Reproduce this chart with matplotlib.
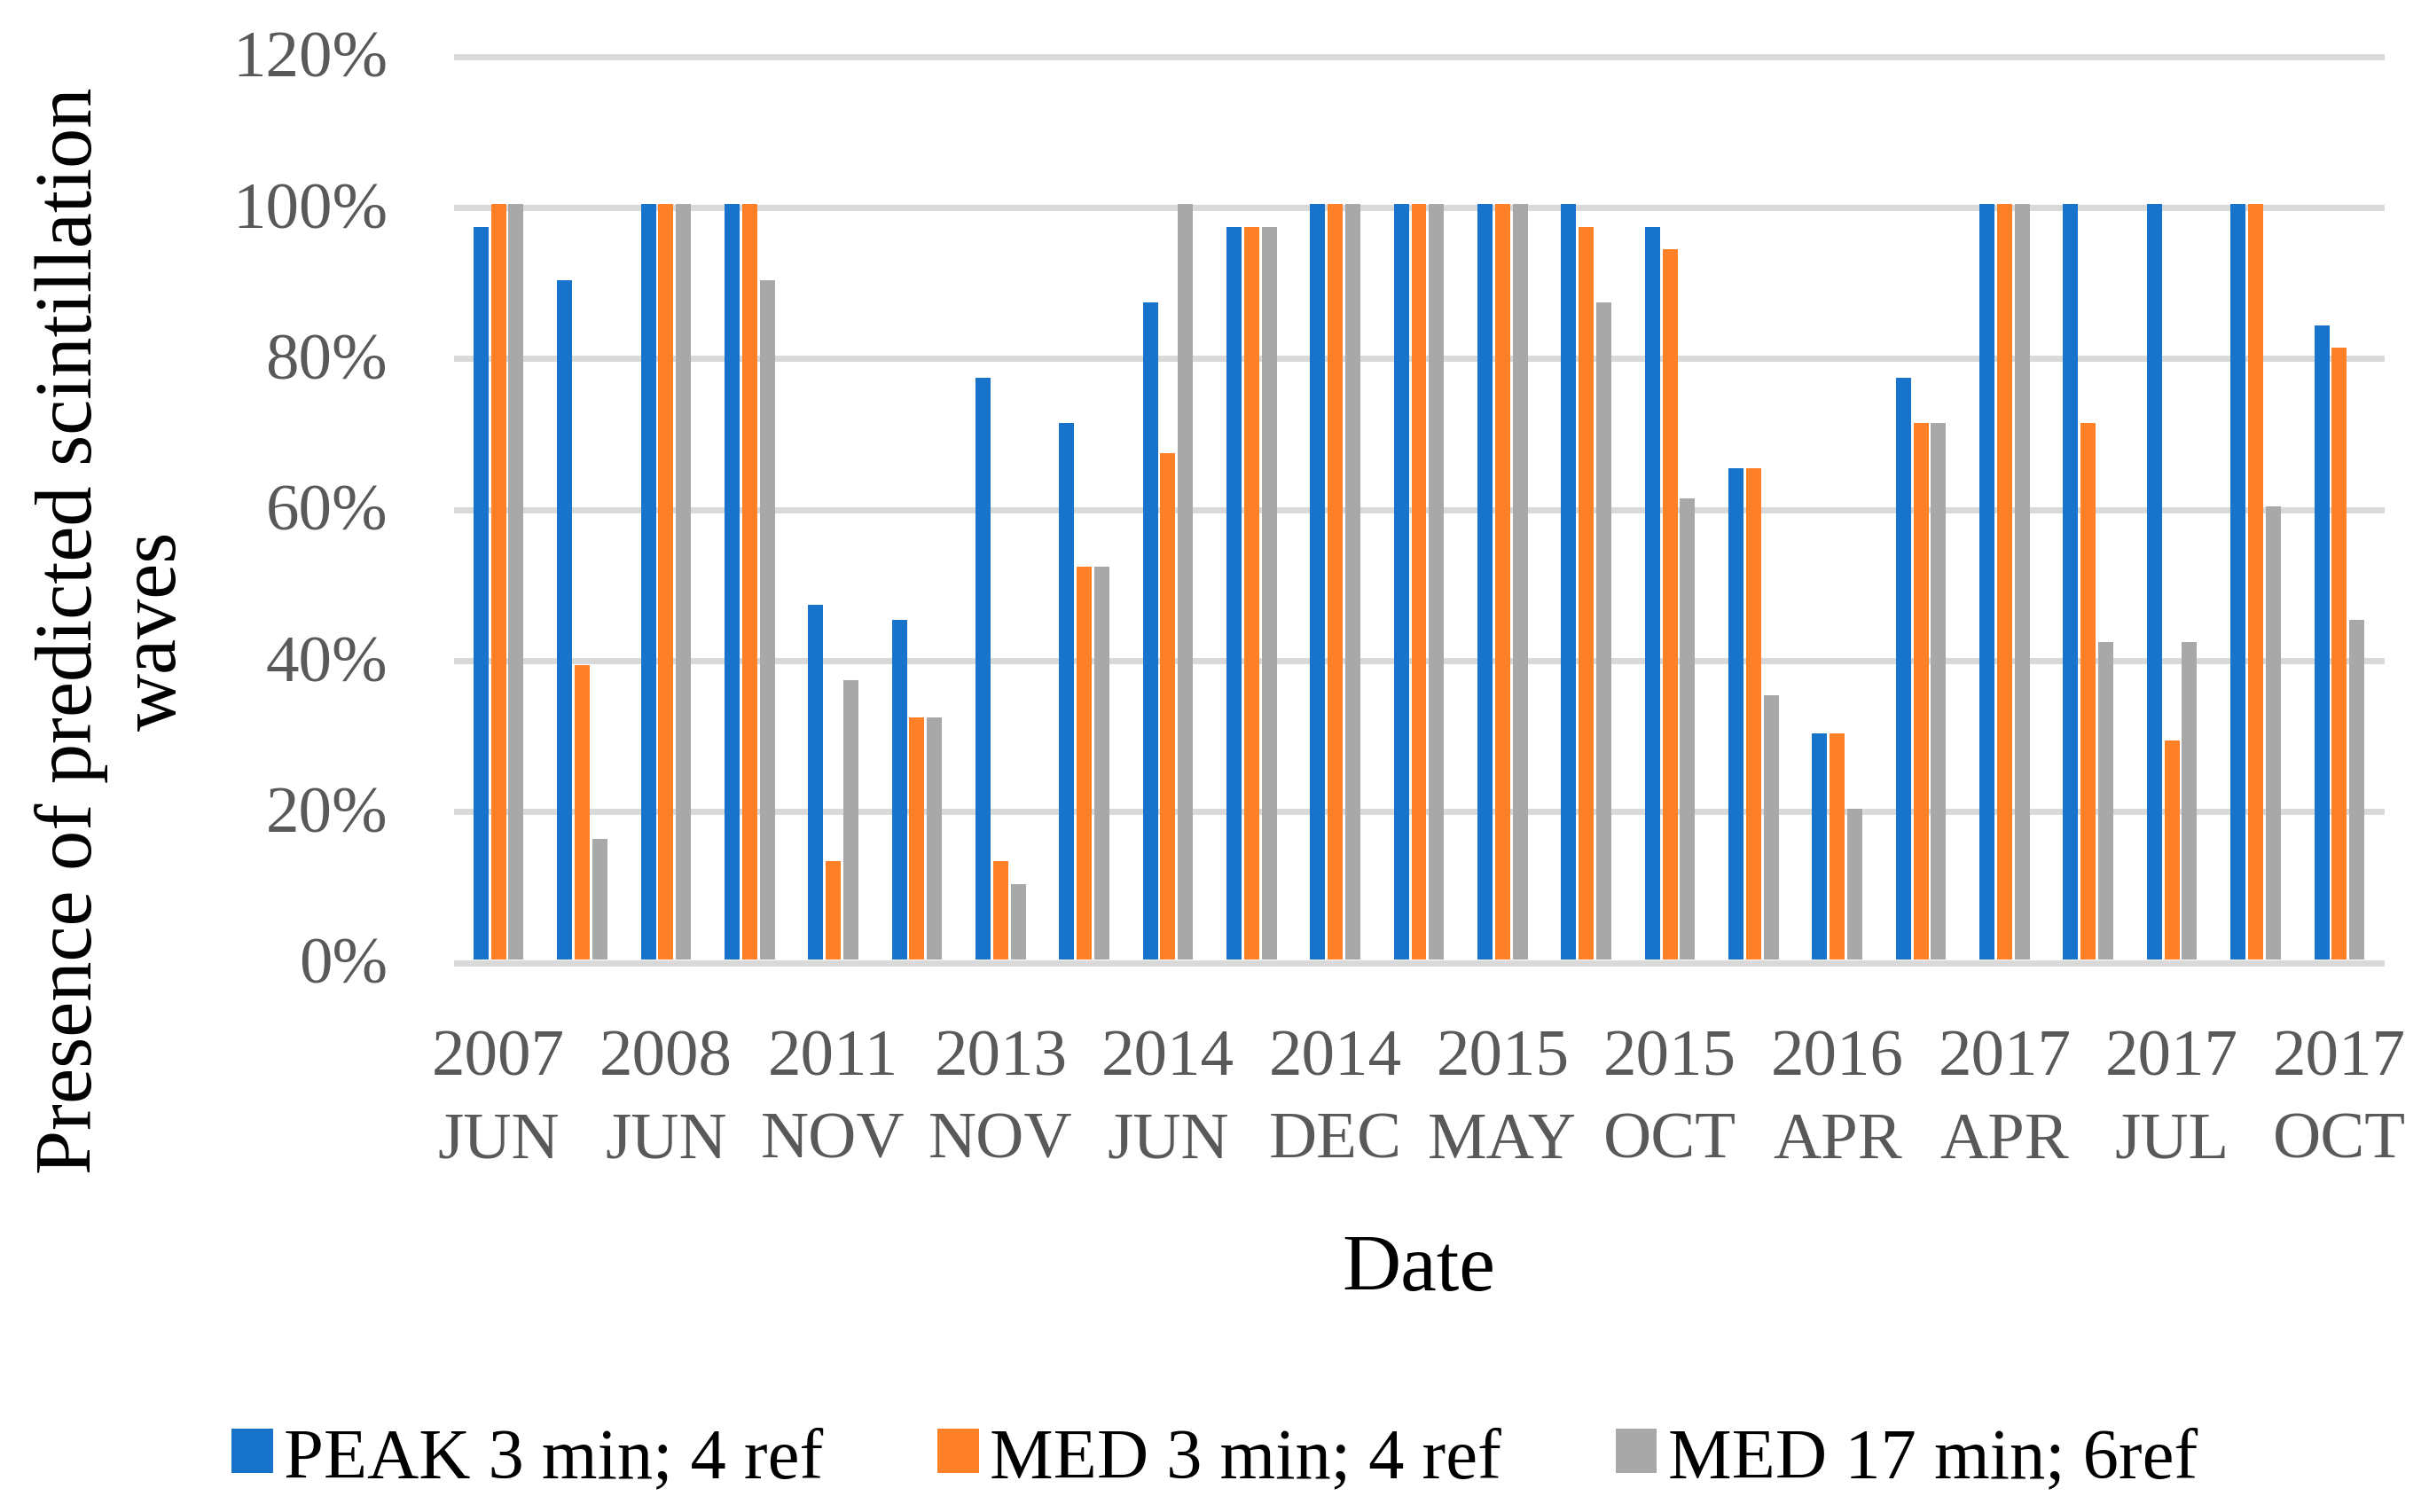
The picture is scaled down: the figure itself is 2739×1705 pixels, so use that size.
import matplotlib
matplotlib.use("Agg")
import matplotlib.pyplot as plt
import numpy as np

# ---- data ----
categories = ["2007\nJUN", "", "2008\nJUN", "", "2011\nNOV", "", "2013\nNOV", "",
              "2014\nJUN", "", "2014\nDEC", "", "2015\nMAY", "", "2015\nOCT", "",
              "2016\nAPR", "", "2017\nAPR", "", "2017\nJUL", "", "2017\nOCT"]
peak_3min_4ref = [97, 90, 100, 100, 47, 45, 77, 71, 87, 97, 100, 100, 100, 100, 97, 65,
                  30, 77, 100, 100, 100, 100, 84]
med_3min_4ref = [100, 39, 100, 100, 13, 32, 13, 52, 67, 97, 100, 100, 100, 97, 94, 65,
                 30, 71, 100, 71, 29, 100, 81]
med_17min_6ref = [100, 16, 100, 90, 37, 32, 10, 52, 100, 97, 100, 100, 100, 87, 61, 35,
                  20, 71, 100, 42, 42, 60, 45]
series_names = ["PEAK 3 min; 4 ref", "MED 3 min; 4 ref", "MED 17 min; 6ref"]
y_ticks = [0, 20, 40, 60, 80, 100, 120]

colors = ["#1874CB", "#FF8027", "#A8A8A8"]
FONT = "Liberation Serif"
TICK_COLOR = "#595959"

W, H = 2739, 1706
fig = plt.figure(figsize=(W / 100, H / 100), dpi=100)
ax = fig.add_axes([515 / W, 1 - 1083 / H, (2685 - 515) / W, (1083 - 61) / H])

x = np.arange(len(categories))
bw = 0.18
pitch = 0.21
for k, (vals, name) in enumerate(zip([peak_3min_4ref, med_3min_4ref, med_17min_6ref], series_names)):
    ax.bar(x + (k - 1) * pitch, np.array(vals) / 100.0, width=bw, color=colors[k],
           label=name, zorder=3, linewidth=0)

ax.set_xlim(-0.5, len(categories) - 0.5)
ax.set_ylim(0, 1.2)

# gridlines (drawn slightly below value so their top edge meets the value)
off = 3.5 / (1022 / 1.2)
for t in y_ticks:
    ax.axhline(t / 100.0 - off, color="#D9D9D9", linewidth=5, zorder=1, clip_on=False)

ax.set_yticks([t / 100.0 for t in y_ticks])
ax.set_yticklabels([f"{t}%" for t in y_ticks], fontfamily=FONT, fontsize=54, color=TICK_COLOR)
ax.set_xticks(x)
ax.set_xticklabels(categories, fontfamily=FONT, fontsize=54, color=TICK_COLOR, linespacing=1.5)
ax.tick_params(axis="y", length=0, pad=56)
ax.tick_params(axis="x", length=0, pad=56)
for s in ax.spines.values():
    s.set_visible(False)

fig.text(1600 / W, 1 - 1455 / H, "Date", fontfamily=FONT, fontsize=66, color="black",
         ha="center", va="baseline")
fig.text(128 / W, 1 - 711 / H, "Presence of predicted scintillation\nwaves", fontfamily=FONT,
         fontsize=65, color="black", rotation=90, ha="center", va="center",
         multialignment="center", linespacing=1.2)

handles, labels = ax.get_legend_handles_labels()
fig.legend(handles, labels, loc="center", bbox_to_anchor=(0.5, 0.035), ncol=3, frameon=False,
           prop={"family": FONT, "size": 58}, handlelength=0.58, handleheight=0.58,
           handletextpad=0.15, columnspacing=1.6, borderpad=0, borderaxespad=0)

fig.savefig("out.png", dpi=100, facecolor="white")
